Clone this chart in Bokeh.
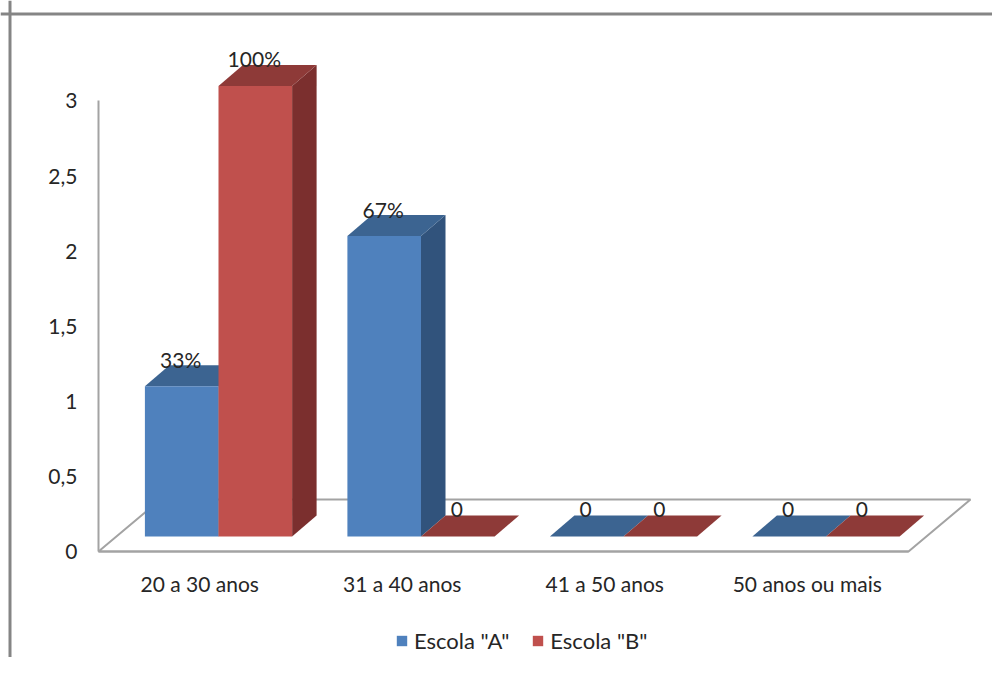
from bokeh.embed import file_html
from bokeh.resources import INLINE
from bokeh.plotting import figure
from bokeh.models import Range1d, FixedTicker, LinearAxis, Legend, LegendItem, Span
from bokeh.core.properties import value

categories = ["20 a 30 anos", "31 a 40 anos", "41 a 50 anos", "50 anos ou mais"]
escola_a = [1, 2, 0, 0]
escola_b = [3, 0, 0, 0]
labels_a = ["33%", "67%", "0", "0"]
labels_b = ["100%", "0", "0", "0"]
y_ticks = [0, 0.5, 1, 1.5, 2, 2.5, 3]
y_tick_labels = ["0", "0,5", "1", "1,5", "2", "2,5", "3"]

FONT = "Lato"
TEXT = "#262626"
GRID = "#A3A3A3"
W, H = 992, 657
SLOT = 202.5      # px per category
UNIT = 150.2      # px per value unit
X0_PX, Y0_PX = 98, 551   # axis origin on the canvas

px = lambda d: d / SLOT
py = lambda d: d / UNIT

p = figure(width=W, height=H, output_backend="svg", toolbar_location=None,
           x_range=Range1d(-X0_PX / SLOT, (W - X0_PX) / SLOT),
           y_range=Range1d((Y0_PX - H) / UNIT, Y0_PX / UNIT),
           x_axis_type=None, y_axis_type=None, min_border=0,
           min_border_left=0, min_border_right=0, min_border_top=0, min_border_bottom=0)
p.grid.visible = False
p.outline_line_color = None
p.background_fill_color = "white"

# outer frame of the picture
p.add_layout(Span(location=px(9.5 - X0_PX), dimension="height", line_color="#858585", line_width=3))
p.add_layout(Span(location=py(Y0_PX - 13.5), dimension="width", line_color="#858585", line_width=3))

# floor
n = len(categories)
depth_x, depth_y = px(62), py(52)
p.patch([0, n, n + depth_x, depth_x], [0, 0, depth_y, depth_y], fill_color="white",
        line_color=GRID, line_width=2)

# axes
yax = LinearAxis(ticker=FixedTicker(ticks=y_ticks), bounds=(0, 3), fixed_location=0,
                 major_label_overrides=dict(zip(y_ticks, y_tick_labels)))
xax = LinearAxis(ticker=FixedTicker(ticks=[i + 0.5 for i in range(n)]), bounds=(0, n), fixed_location=0,
                 major_label_overrides={i + 0.5: c for i, c in enumerate(categories)})
for ax in (yax, xax):
    ax.axis_line_color = GRID
    ax.axis_line_width = 2
    ax.major_tick_line_color = None
    ax.minor_tick_line_color = None
    ax.major_tick_in = 0
    ax.major_tick_out = 0
    ax.major_label_text_font = FONT
    ax.major_label_text_font_size = "21px"
    ax.major_label_text_color = TEXT
yax.major_label_standoff = 21
xax.major_label_standoff = 19
p.add_layout(yax, "left")
p.add_layout(xax, "below")

# bars
shift_x, shift_y = px(18.75), py(15)     # front plane offset from the axis
bar_w = px(73.6)
bar_dx, bar_dy = px(24.5), py(21)        # 3D depth of a bar


def draw_series(vals, labels, slot_offset, front, top, side):
    lefts = [i + 0.5 + shift_x + (slot_offset - 1) * bar_w for i in range(n)]
    rights = [l + bar_w for l in lefts]
    base_y = [shift_y] * n
    front_tops = [v + shift_y for v in vals]
    # side faces
    p.patches([[r, r + bar_dx, r + bar_dx, r] for r in rights],
              [[b, b + bar_dy, t + bar_dy, t] for b, t in zip(base_y, front_tops)],
              fill_color=side, line_color=None)
    # top faces
    p.patches([[l, r, r + bar_dx, l + bar_dx] for l, r in zip(lefts, rights)],
              [[t, t, t + bar_dy, t + bar_dy] for t in front_tops],
              fill_color=top, line_color=None)
    # front faces
    r_front = p.quad(left=lefts, right=rights, bottom=base_y, top=front_tops,
                     fill_color=front, line_color=None)
    p.text([(l + r) / 2 - px(1) for l, r in zip(lefts, rights)], [t + py(27) for t in front_tops], text=labels,
           text_font=value(FONT), text_font_size="21px", text_color=TEXT,
           text_align="center", text_baseline="middle")
    return r_front


r_a = draw_series(escola_a, labels_a, 0, "#4F81BD", "#3C6491", "#31537C")
r_b = draw_series(escola_b, labels_b, 1, "#C0504D", "#8E3A38", "#7B2F2E")

legend = Legend(items=[LegendItem(label='Escola "A"', renderers=[r_a]),
                       LegendItem(label='Escola "B"', renderers=[r_b])],
                orientation="horizontal", location=(395, H - 654),
                border_line_color=None, background_fill_alpha=0, padding=0, margin=0,
                glyph_width=13, glyph_height=13, spacing=22, label_standoff=6,
                label_text_font=FONT, label_text_font_size="22px", label_text_color=TEXT)
p.add_layout(legend)

open("out.html", "w").write(file_html(p, INLINE))
